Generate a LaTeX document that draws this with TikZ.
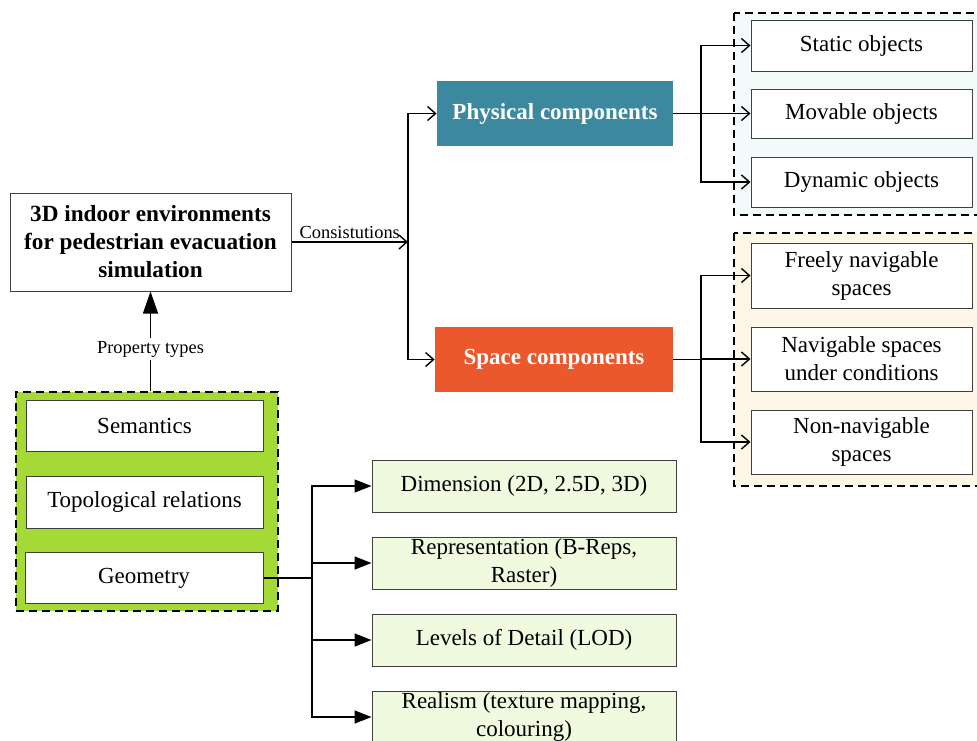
\documentclass[tikz,border=0pt]{standalone}
\usepackage{fontspec}
\setmainfont{Liberation Serif}
\usetikzlibrary{arrows.meta}
\definecolor{propgreen}{HTML}{A5D936}
\definecolor{physteal}{HTML}{3B889F}
\definecolor{spaceorange}{HTML}{EB582C}
\definecolor{objpanel}{HTML}{F2FAFA}
\definecolor{spcpanel}{HTML}{FEF6E6}
\definecolor{geofill}{HTML}{EFFADF}
\tikzset{
  box/.style={
    draw=black!75,
    line width=0.5pt,
    fill=white,
    align=center,
    inner sep=0pt
  },
  itembox/.style={
    box,
    minimum width=110.5pt,
    minimum height=25pt
  },
  propbox/.style={
    box,
    minimum width=118.5pt,
    minimum height=25.5pt
  },
  geobox/.style={
    box,
    fill=geofill,
    minimum width=152pt,
    minimum height=26pt
  },
  compbox/.style={
    fill=#1,
    text=white,
    font=\fontsize{11.5}{14}\selectfont\bfseries,
    minimum width=118.5pt,
    minimum height=32.5pt,
    inner sep=0pt
  },
  panel/.style={
    draw=black,
    dashed,
    dash pattern=on 4pt off 2.5pt,
    line width=0.75pt
  },
  openarrow/.style={
    line width=0.7pt,
    -{Straight Barb[length=4pt,width=7pt]}
  },
  fillarrow/.style={
    line width=0.7pt,
    -{Triangle[length=8.5pt,width=6.5pt]}
  },
  conn/.style={
    line width=0.7pt
  }
}

\begin{document}
\begin{tikzpicture}[x=0.5pt,y=-0.5pt,font=\fontsize{11.5}{14}\selectfont]
  \clip (0,0) rectangle (977,740);
  % central node
  \node[box,minimum width=140.5pt,minimum height=49pt,font=\fontsize{11.6}{14}\selectfont\bfseries] (env) at (150.5,242)
    {3D indoor environments\\for pedestrian evacuation\\simulation};

  % property types
  \node[panel,fill=propgreen,minimum width=131pt,minimum height=109.5pt,inner sep=0pt] (props) at (147,501.5) {};
  \node[propbox] (sem) at (144.5,426) {Semantics};
  \node[propbox,minimum height=26pt] (topo) at (144.5,502) {Topological relations};
  \node[propbox,minimum width=119pt] (geo) at (144,578) {Geometry};
  \draw[fillarrow,-{Triangle[length=11pt,width=7.5pt]}] (props.north -| env) -- node[pos=0.42,fill=white,inner sep=1.5pt,font=\fontsize{9.2}{11}\selectfont] {Property types} (env.south);

  % consistutions
  \coordinate (cj) at (408,242);
  \draw[openarrow] (env.east) -- node[above,inner sep=1.5pt,font=\fontsize{9.2}{11}\selectfont] {Consistutions} (cj);
  \node[compbox=physteal,minimum width=118pt] (phys) at (555,113.5) {Physical components};
  \node[compbox=spaceorange,minimum width=119pt] (space) at (554,359.5) {Space components};
  \draw[openarrow] (cj) |- (phys.west);
  \draw[openarrow] (cj) |- (space.west);

  % physical components
  \draw[panel,fill=objpanel] (734,13) rectangle (990,215);
  \node[itembox,minimum height=25.5pt] (static) at (861.5,45.5) {Static objects};
  \node[itembox,minimum height=24.5pt] (movable) at (861.5,113.5) {Movable objects};
  \node[itembox] (dynamic) at (861.5,182) {Dynamic objects};
  \coordinate (pj) at (701,113.5);
  \draw[conn] (phys.east) -- (pj);
  \foreach \t in {static,movable,dynamic}
    \draw[openarrow] (pj) |- (\t.west);

  % space components
  \draw[panel,fill=spcpanel] (734,233) rectangle (990,486);
  \node[itembox,minimum height=32.5pt] (free) at (861.5,275.5) {Freely navigable\\spaces};
  \node[itembox,minimum height=32pt] (cond) at (861.5,359) {Navigable spaces\\under conditions};
  \node[itembox,minimum height=32pt] (nonnav) at (861.5,442) {Non-navigable\\spaces};
  \coordinate (sj) at (701,359.5);
  \draw[conn] (space.east) -- (sj);
  \foreach \t in {free,cond,nonnav}
    \draw[openarrow] (sj) |- (\t.west);

  % geometry
  \node[geobox] (dim) at (524,486) {Dimension (2D, 2.5D, 3D)};
  \node[geobox] (rep) at (524,563) {Representation (B-Reps,\\Raster)};
  \node[geobox] (lod) at (524,640) {Levels of Detail (LOD)};
  \node[geobox] (real) at (524,717) {Realism (texture mapping,\\colouring)};
  \coordinate (gj) at (312,578);
  \draw[conn] (geo.east) -- (gj);
  \foreach \t in {dim,rep,lod,real}
    \draw[fillarrow] (gj) |- (\t.west);
\end{tikzpicture}
\end{document}
